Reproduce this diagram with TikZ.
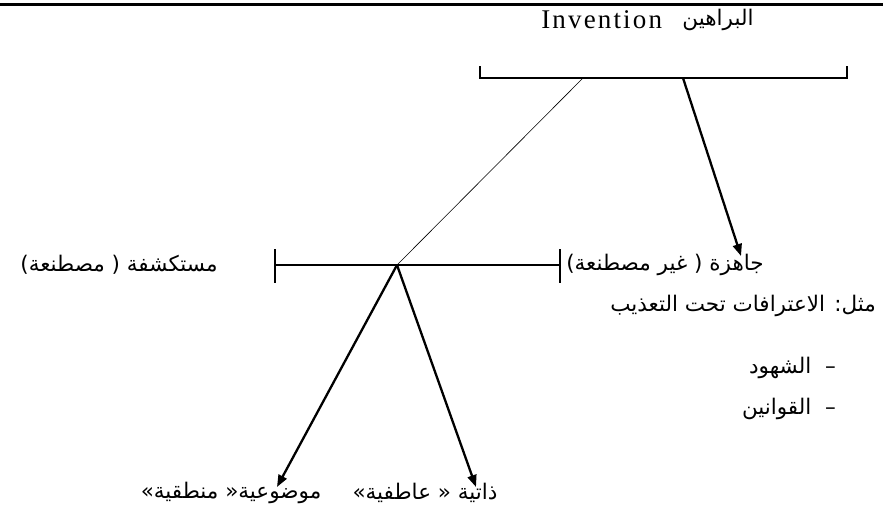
\documentclass[tikz,border=0pt]{standalone}
\usepackage{fontspec}
\setmainfont{Liberation Serif}
\newfontfamily\arabicfont[Script=Arabic]{DejaVu Sans}
\newfontfamily\latinfont[LetterSpace=8]{Liberation Serif}
\TeXXeTstate=1
\usepackage{tikz}
\usetikzlibrary{arrows.meta,positioning}

\begin{document}
\begin{tikzpicture}[x=1pt, y=-1pt,
        artext/.style={inner sep=0pt, font=\arabicfont\fontsize{21.5}{24}\selectfont},
        lattext/.style={inner sep=0pt, font=\latinfont\fontsize{27}{30}\selectfont},
        bracket/.style={line width=1.3pt},
        guide/.style={line width=0.6pt},
        bus/.style={-{Triangle[length=12pt, width=9pt]}, line width=2.3pt}
    ]
    \useasboundingbox (0,0) rectangle (883,504);
    \draw[line width=3pt] (0,4) -- (883,4);

    % title
    \node[artext] (proofs) at (718,20) {\beginR البراهين\endR};
    \node[lattext, left=20pt of proofs] (invention) {Invention};

    % upper bracket
    \coordinate (topL) at (480,78);
    \coordinate (topR) at (847,78);
    \coordinate (topA) at (583,78);
    \coordinate (topB) at (683,78);
    \draw[bracket] (480,66) -- (topL) -- (topR) -- (847,66);

    % lower bracket
    \coordinate (midL) at (275,265);
    \coordinate (midR) at (560,265);
    \coordinate (hub) at (397,265);
    \draw[bracket] (275,249) -- (275,283);
    \draw[bracket] (560,249) -- (560,283);
    \draw[bracket] (midL) -- (midR);

    \node[artext] (found) at (119,265) {\beginR مستكشفة ( مصطنعة)\endR};
    \node[artext] (ready) at (665,265) {\beginR جاهزة ( غير مصطنعة)\endR};
    \node[artext, anchor=east] (example) at (876,306) {\beginR مثل: الاعترافات تحت التعذيب\endR};
    \node[artext, anchor=east] (witness) at (836,368) {\beginR –\ \ الشهود\endR};
    \node[artext, anchor=east] (laws) at (836,409) {\beginR –\ \ القوانين\endR};

    \node[artext] (objective) at (231,493) {\beginR موضوعية« منطقية»\endR};
    \node[artext] (subjective) at (425,493) {\beginR ذاتية « عاطفية»\endR};

    \coordinate (readytip) at (741,256);
    \coordinate (objtip) at (277,487);
    \coordinate (subjtip) at (476,487);

    \draw[guide] (topA) -- (hub);
    \draw[bus] (topB) -- (readytip);
    \draw[bus] (hub) -- (objtip);
    \draw[bus] (hub) -- (subjtip);
\end{tikzpicture}
\end{document}
